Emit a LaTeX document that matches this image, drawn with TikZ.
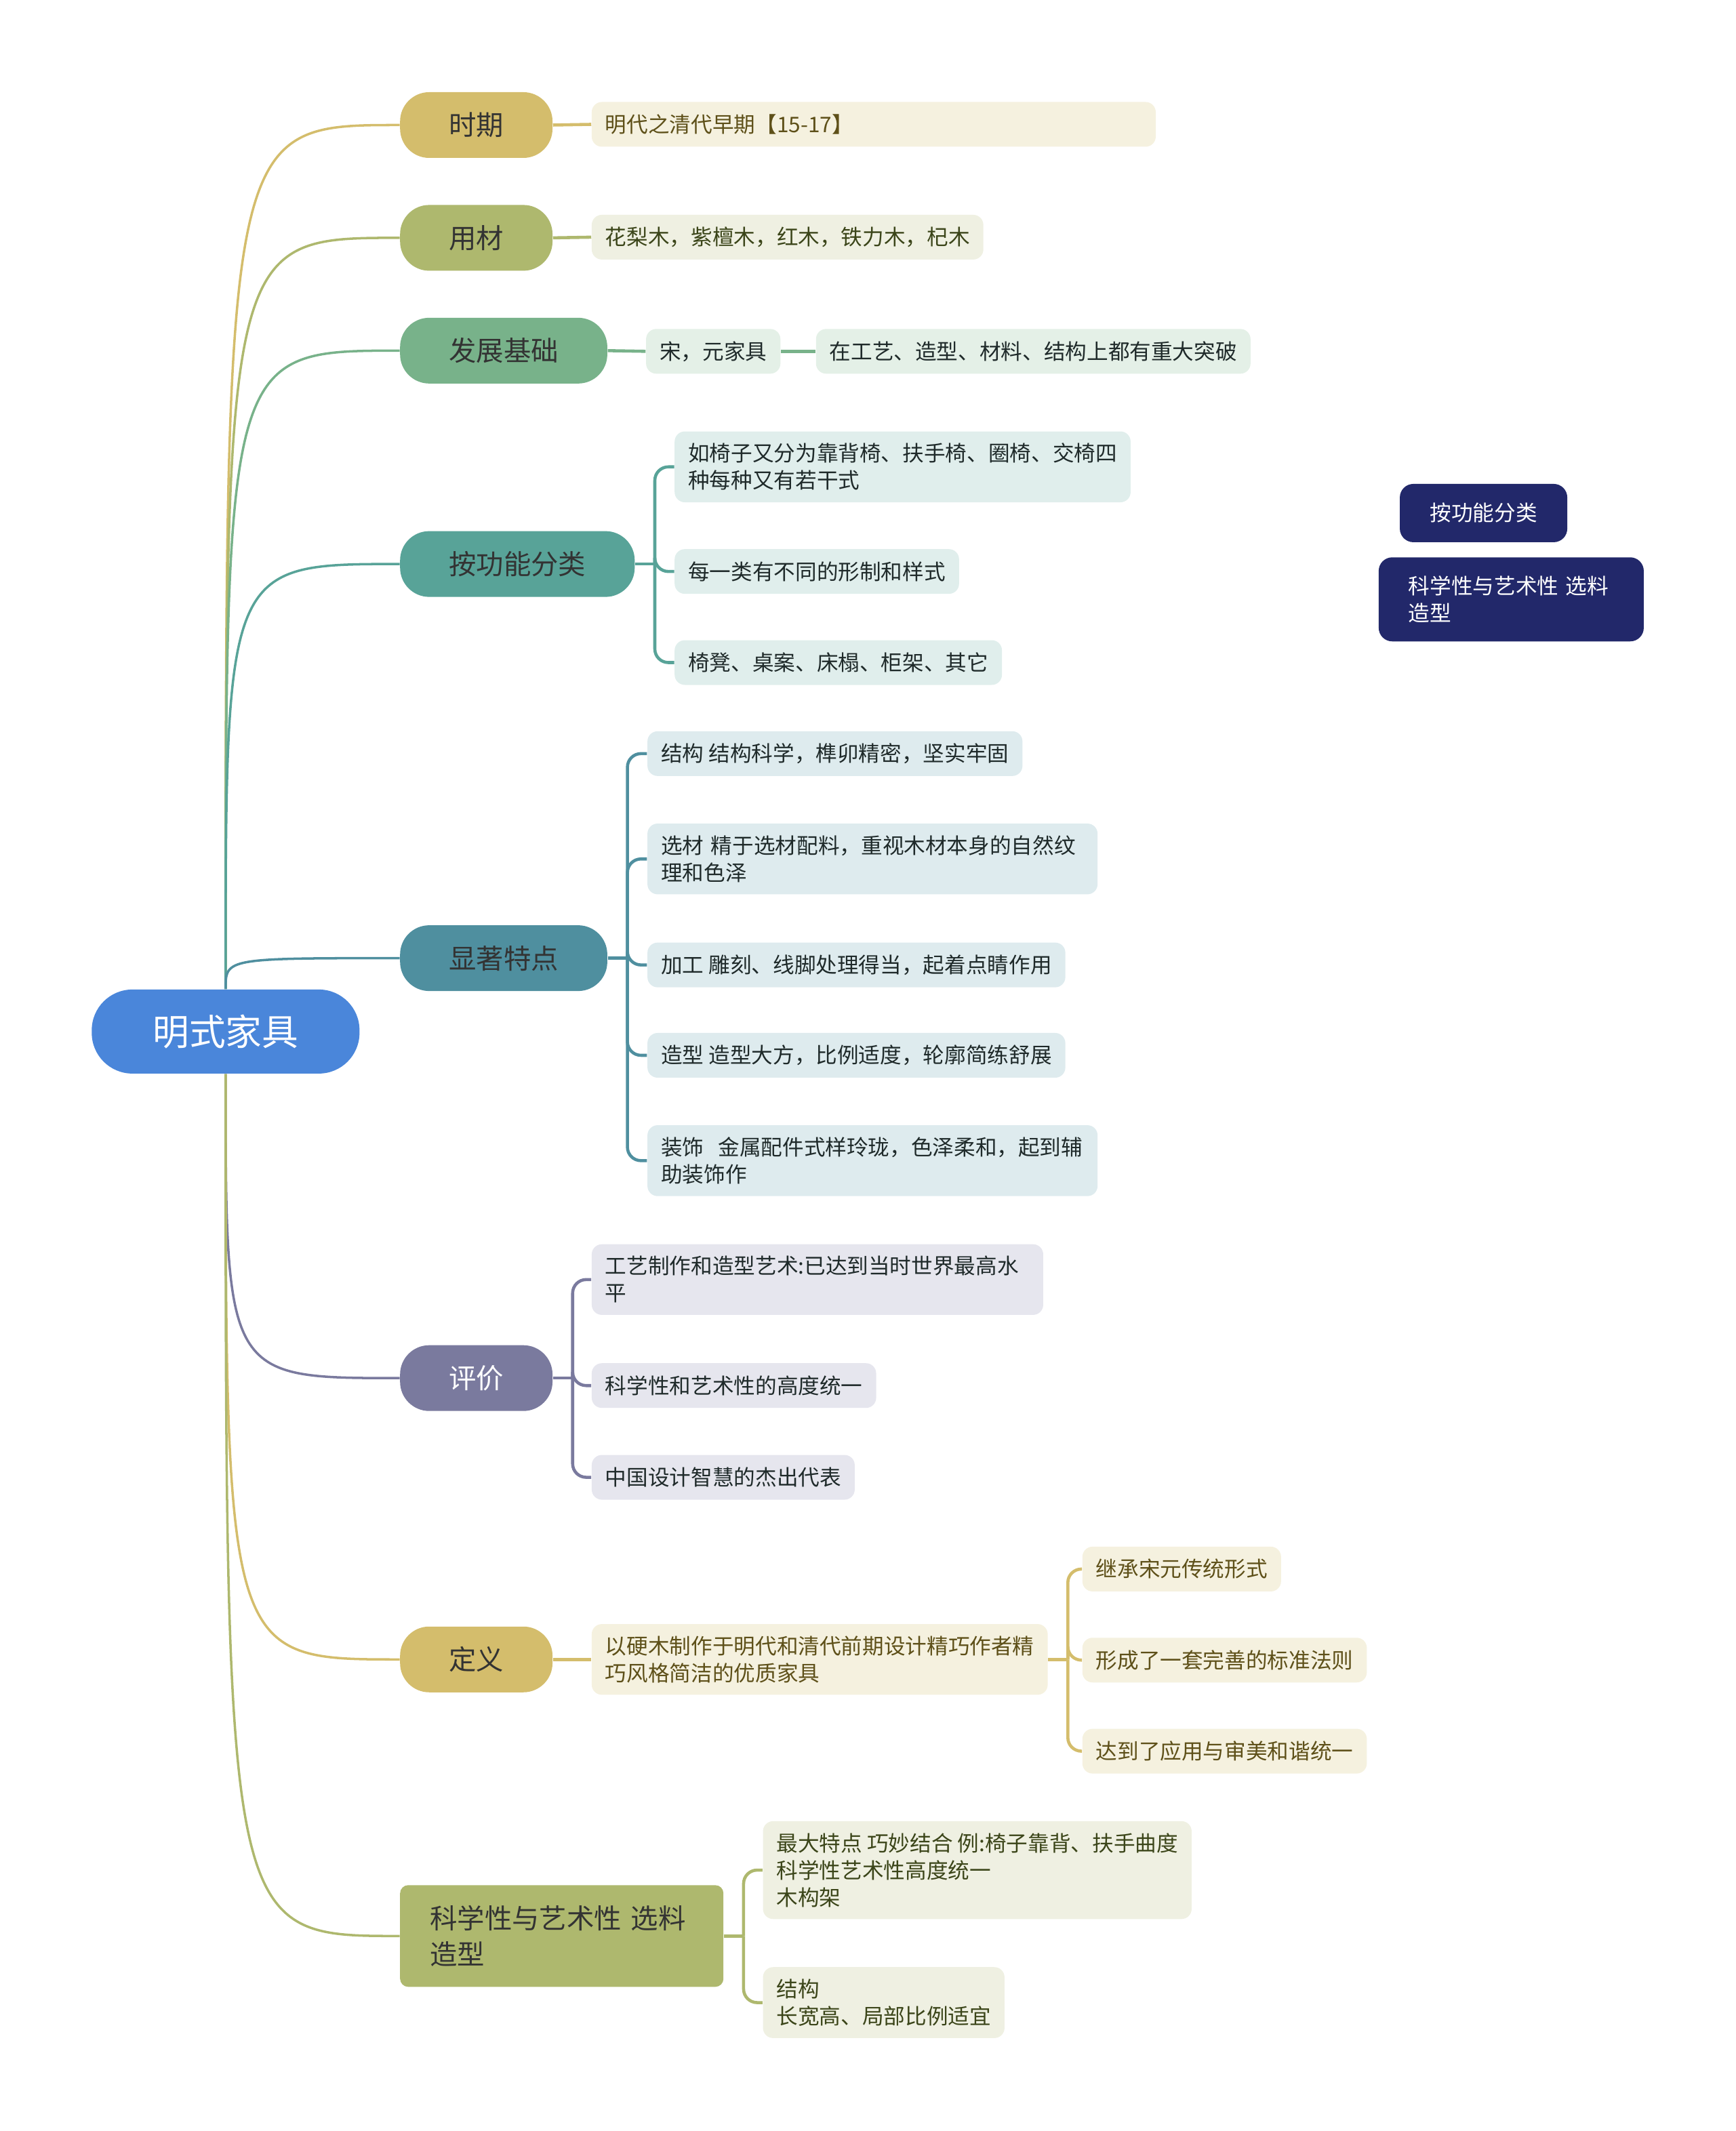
\documentclass[tikz,border=0pt]{standalone}
\usepackage{fontspec}
\setmainfont{Noto Sans CJK SC}
\usetikzlibrary{calc}

\definecolor{rootblue}{HTML}{4A86DA}
\definecolor{goldtopic}{HTML}{D4BD6C}
\definecolor{olivetopic}{HTML}{AEB86E}
\definecolor{greentopic}{HTML}{78B28A}
\definecolor{tealtopic}{HTML}{58A398}
\definecolor{bluetopic}{HTML}{4F8F9F}
\definecolor{purpletopic}{HTML}{7A7A9E}
\definecolor{navyfloat}{HTML}{22286A}
\definecolor{goldleaf}{HTML}{F5F1DF}
\definecolor{oliveleaf}{HTML}{EFF0E2}
\definecolor{greenleaf}{HTML}{E4F0E7}
\definecolor{tealleaf}{HTML}{E0EEEC}
\definecolor{blueleaf}{HTML}{DEEBEE}
\definecolor{purpleleaf}{HTML}{E6E6EE}
\definecolor{goldtext}{HTML}{5E5019}
\definecolor{olivetext}{HTML}{3B4519}
\definecolor{darktext}{HTML}{1F2A2A}

\begin{document}
\begin{tikzpicture}[x=0.2005mm, y=-0.2005mm,
    every node/.style={font=\fontsize{9pt}{11.4pt}\selectfont},
    root/.style={rectangle, rounded corners=6mm, fill=rootblue, text=white,
        minimum width=39.5mm, minimum height=12.4mm,
        font=\fontsize{15.3pt}{18pt}\selectfont},
    topic/.style={rectangle, rounded corners=4.3mm, minimum height=9.7mm,
        inner xsep=7.2mm, anchor=west, text=black!80,
        font=\fontsize{11.5pt}{14pt}\selectfont},
    leaf/.style={rectangle, rounded corners=1.5mm, minimum height=6.6mm,
        inner xsep=2mm, inner ysep=1.75mm, align=left, anchor=west},
    goldbox/.style={leaf, fill=goldleaf, text=goldtext},
    olivebox/.style={leaf, fill=oliveleaf, text=olivetext},
    greenbox/.style={leaf, fill=greenleaf, text=darktext},
    tealbox/.style={leaf, fill=tealleaf, text=darktext},
    bluebox/.style={leaf, fill=blueleaf, text=darktext},
    purplebox/.style={leaf, fill=purpleleaf, text=darktext},
    floatbox/.style={rectangle, rounded corners=2mm, fill=navyfloat, text=white},
    link/.style={line width=1pt},
    fork/.style={line width=1.3pt, rounded corners=2mm}]

    \useasboundingbox (0,0) rectangle (1277,1568);

    % Nodo central
    \node[root] (mueble) at (166,759) {明式家具};

    % Ramas principales
    \node[topic, fill=goldtopic] (periodo) at (294,92) {时期};
    \node[topic, fill=olivetopic] (material) at (294,175) {用材};
    \node[topic, fill=greentopic] (base) at (294,258) {发展基础};
    \node[topic, fill=tealtopic] (funcion) at (294,415) {按功能分类};
    \node[topic, fill=bluetopic] (rasgos) at (294,705) {显著特点};
    \node[topic, fill=purpletopic, text=white] (juicio) at (294,1014) {评价};
    \node[topic, fill=goldtopic] (definicion) at (294,1221) {定义};
    \node[topic, fill=olivetopic, rounded corners=1.2mm, minimum height=15mm,
        inner xsep=4.4mm, text width=38.9mm, align=left,
        font=\fontsize{11.5pt}{14.8pt}\selectfont] (ciencia) at (294,1424.5)
        {科学性与艺术性 选料\\造型};

    % Curvas desde el nodo central
    \foreach \n/\c in {periodo/goldtopic, material/olivetopic, base/greentopic,
        funcion/tealtopic, rasgos/bluetopic}
        \draw[link, \c] (mueble.north) .. controls (mueble.north |- \n.west) .. (\n.west);
    \foreach \n/\c in {juicio/purpletopic, definicion/goldtopic, ciencia/olivetopic}
        \draw[link, \c] (mueble.south) .. controls (mueble.south |- \n.west) .. (\n.west);

    % Hojas: periodo, material, base
    \node[goldbox, text width=79.2mm] (periodo-a) at (435,91.5) {明代之清代早期【15-17】};
    \node[olivebox] (material-a) at (435,174.5) {花梨木，紫檀木，红木，铁力木，杞木};
    \node[greenbox] (base-a) at (475,258.5) {宋，元家具};
    \node[greenbox] (base-b) at (600,258.5) {在工艺、造型、材料、结构上都有重大突破};
    \draw[fork, goldtopic] (periodo.east) -- (periodo-a.west);
    \draw[fork, olivetopic] (material.east) -- (material-a.west);
    \draw[fork, greentopic] (base.east) -- (base-a.west);
    \draw[fork, greentopic] (base-a.east) -- (base-b.west);

    % Hojas: clasificacion por funcion
    \node[tealbox] (funcion-a) at (496,343.5) {如椅子又分为靠背椅、扶手椅、圈椅、交椅四\\种每种又有若干式};
    \node[tealbox] (funcion-b) at (496,420.5) {每一类有不同的形制和样式};
    \node[tealbox] (funcion-c) at (496,487.5) {椅凳、桌案、床榻、柜架、其它};
    \draw[fork, tealtopic] (funcion.east) -- ++(2.9mm,0) coordinate (funcion-f);
    \foreach \c in {funcion-a, funcion-b, funcion-c}
        \draw[fork, tealtopic] (funcion-f) |- (\c.west);

    % Hojas: rasgos notables
    \node[bluebox] (rasgos-a) at (476,554.5) {结构 结构科学，榫卯精密，坚实牢固};
    \node[bluebox, text width=62.4mm] (rasgos-b) at (476,632) {选材 精于选材配料，重视木材本身的自然纹\\理和色泽};
    \node[bluebox] (rasgos-c) at (476,710) {加工 雕刻、线脚处理得当，起着点睛作用};
    \node[bluebox] (rasgos-d) at (476,776.5) {造型 造型大方，比例适度，轮廓简练舒展};
    \node[bluebox, text width=62.4mm] (rasgos-e) at (476,854) {装饰\ \ 金属配件式样玲珑，色泽柔和，起到辅\\助装饰作};
    \draw[fork, bluetopic] (rasgos.east) -- ++(2.9mm,0) coordinate (rasgos-f);
    \foreach \c in {rasgos-a, rasgos-b, rasgos-c, rasgos-d, rasgos-e}
        \draw[fork, bluetopic] (rasgos-f) |- (\c.west);

    % Hojas: evaluacion
    \node[purplebox, text width=62.6mm] (juicio-a) at (435,941.5) {工艺制作和造型艺术:已达到当时世界最高水\\平};
    \node[purplebox] (juicio-b) at (435,1019.5) {科学性和艺术性的高度统一};
    \node[purplebox] (juicio-c) at (435,1087) {中国设计智慧的杰出代表};
    \draw[fork, purpletopic] (juicio.east) -- ++(2.9mm,0) coordinate (juicio-f);
    \foreach \c in {juicio-a, juicio-b, juicio-c}
        \draw[fork, purpletopic] (juicio-f) |- (\c.west);

    % Hojas: definicion
    \node[goldbox] (definicion-a) at (435,1221) {以硬木制作于明代和清代前期设计精巧作者精\\巧风格简洁的优质家具};
    \node[goldbox] (definicion-b) at (796,1154.5) {继承宋元传统形式};
    \node[goldbox] (definicion-c) at (796,1221.5) {形成了一套完善的标准法则};
    \node[goldbox] (definicion-d) at (796,1288.5) {达到了应用与审美和谐统一};
    \draw[fork, goldtopic] (definicion.east) -- (definicion-a.west);
    \draw[fork, goldtopic] (definicion-a.east) -- ++(2.9mm,0) coordinate (definicion-f);
    \foreach \c in {definicion-b, definicion-c, definicion-d}
        \draw[fork, goldtopic] (definicion-f) |- (\c.west);

    % Hojas: ciencia y arte
    \node[olivebox] (ciencia-a) at (561,1376) {最大特点 巧妙结合 例:椅子靠背、扶手曲度\\科学性艺术性高度统一\\木构架};
    \node[olivebox] (ciencia-b) at (561,1473.5) {结构\\长宽高、局部比例适宜};
    \draw[fork, olivetopic] (ciencia.east) -- ++(2.9mm,0) coordinate (ciencia-f);
    \foreach \c in {ciencia-a, ciencia-b}
        \draw[fork, olivetopic] (ciencia-f) |- (\c.west);

    % Temas sueltos
    \node[floatbox, minimum width=24.7mm, minimum height=8.6mm] (suelto-a) at (1091.5,377.5) {按功能分类};
    \node[floatbox, anchor=west, minimum height=12.4mm, inner xsep=4.4mm,
        text width=30.3mm, align=left] (suelto-b) at (1014,441) {科学性与艺术性 选料\\造型};
\end{tikzpicture}
\end{document}
